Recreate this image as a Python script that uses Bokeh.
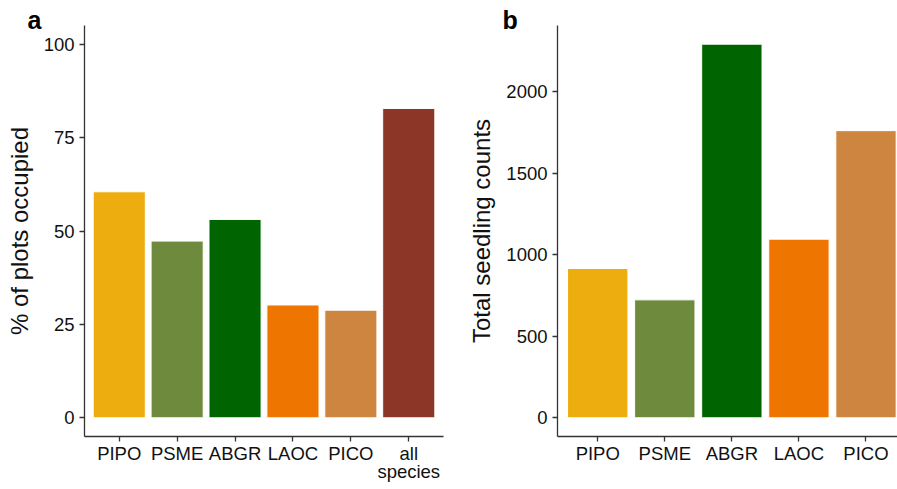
from bokeh.plotting import figure
from bokeh.layouts import row
from bokeh.models import Range1d, FixedTicker, ColumnDataSource
from bokeh.embed import file_html
from bokeh.resources import INLINE

# ---- data ----
species_a = ["PIPO", "PSME", "ABGR", "LAOC", "PICO", "all\nspecies"]
pct_plots = [60.5, 47.3, 53.1, 30.2, 28.8, 82.8]
colors_a = ["#EEAD0E", "#6E8B3D", "#006400", "#EE7600", "#CD853F", "#8B3626"]

species_b = ["PIPO", "PSME", "ABGR", "LAOC", "PICO"]
seedling_counts = [915, 723, 2290, 1095, 1760]
colors_b = ["#EEAD0E", "#6E8B3D", "#006400", "#EE7600", "#CD853F"]

ticks_a = [0, 25, 50, 75, 100]
ticks_b = [0, 500, 1000, 1500, 2000]

FONT = "Liberation Sans"
AX = "#333333"


def style(p, yticks, xlabels, ylabel, panel_tag, tag_offset):
    p.xaxis.ticker = FixedTicker(ticks=list(range(1, len(xlabels) + 1)))
    p.xaxis.major_label_overrides = {i + 1: s for i, s in enumerate(xlabels)}
    p.yaxis.ticker = FixedTicker(ticks=yticks)
    p.yaxis.axis_label = ylabel
    p.xgrid.visible = False
    p.ygrid.visible = False
    p.outline_line_color = None
    for ax in (p.xaxis[0], p.yaxis[0]):
        ax.axis_line_color = AX
        ax.axis_line_width = 1.3
        ax.major_tick_line_color = AX
        ax.major_tick_line_width = 1.3
        ax.major_tick_out = 5
        ax.major_tick_in = 0
        ax.minor_tick_line_color = None
        ax.major_label_text_font = FONT
        ax.major_label_text_font_size = "18.5px"
        ax.major_label_text_color = "#111111"
        ax.axis_label_text_font = FONT
        ax.axis_label_text_font_size = "24px"
        ax.axis_label_text_font_style = "normal"
        ax.axis_label_text_color = "#111111"
    p.xaxis.major_label_standoff = 1
    p.xaxis.major_label_text_line_height = 0.88
    p.yaxis.major_label_standoff = 5
    p.yaxis.axis_label_standoff = 8
    p.title.text = panel_tag
    p.title.align = "left"
    p.title.offset = tag_offset
    p.title.text_font = FONT
    p.title.text_font_style = "bold"
    p.title.text_font_size = "25px"
    p.title.text_color = "black"
    p.title.standoff = -16
    p.title.text_line_height = 0.9


# ---- panel a ----
pa = figure(width=450, height=489, output_backend="svg", toolbar_location=None,
            x_range=Range1d(0.4, 6.6), y_range=Range1d(-5, 105),
            min_border_left=84, min_border_right=7, min_border_top=25,
            min_border_bottom=53)
src_a = ColumnDataSource(dict(x=list(range(1, len(species_a) + 1)), top=pct_plots, color=colors_a))
pa.vbar(x="x", top="top", bottom=0, width=0.9, fill_color="color", line_color="white",
        line_width=1, source=src_a)
style(pa, ticks_a, species_a, "% of plots occupied", "a", -57)

# ---- panel b ----
pb = figure(width=447, height=489, output_backend="svg", toolbar_location=None,
            x_range=Range1d(0.4, 5.47), y_range=Range1d(-114.5, 2404.5),
            min_border_left=107, min_border_right=0, min_border_top=25,
            min_border_bottom=53)
src_b = ColumnDataSource(dict(x=list(range(1, len(species_b) + 1)), top=seedling_counts, color=colors_b))
pb.vbar(x="x", top="top", bottom=0, width=0.9, fill_color="color", line_color="white",
        line_width=1, source=src_b)
style(pb, ticks_b, species_b, "Total seedling counts", "b", -55)

layout = row(pa, pb, spacing=0)
open("out.html", "w").write(file_html(layout, INLINE))
